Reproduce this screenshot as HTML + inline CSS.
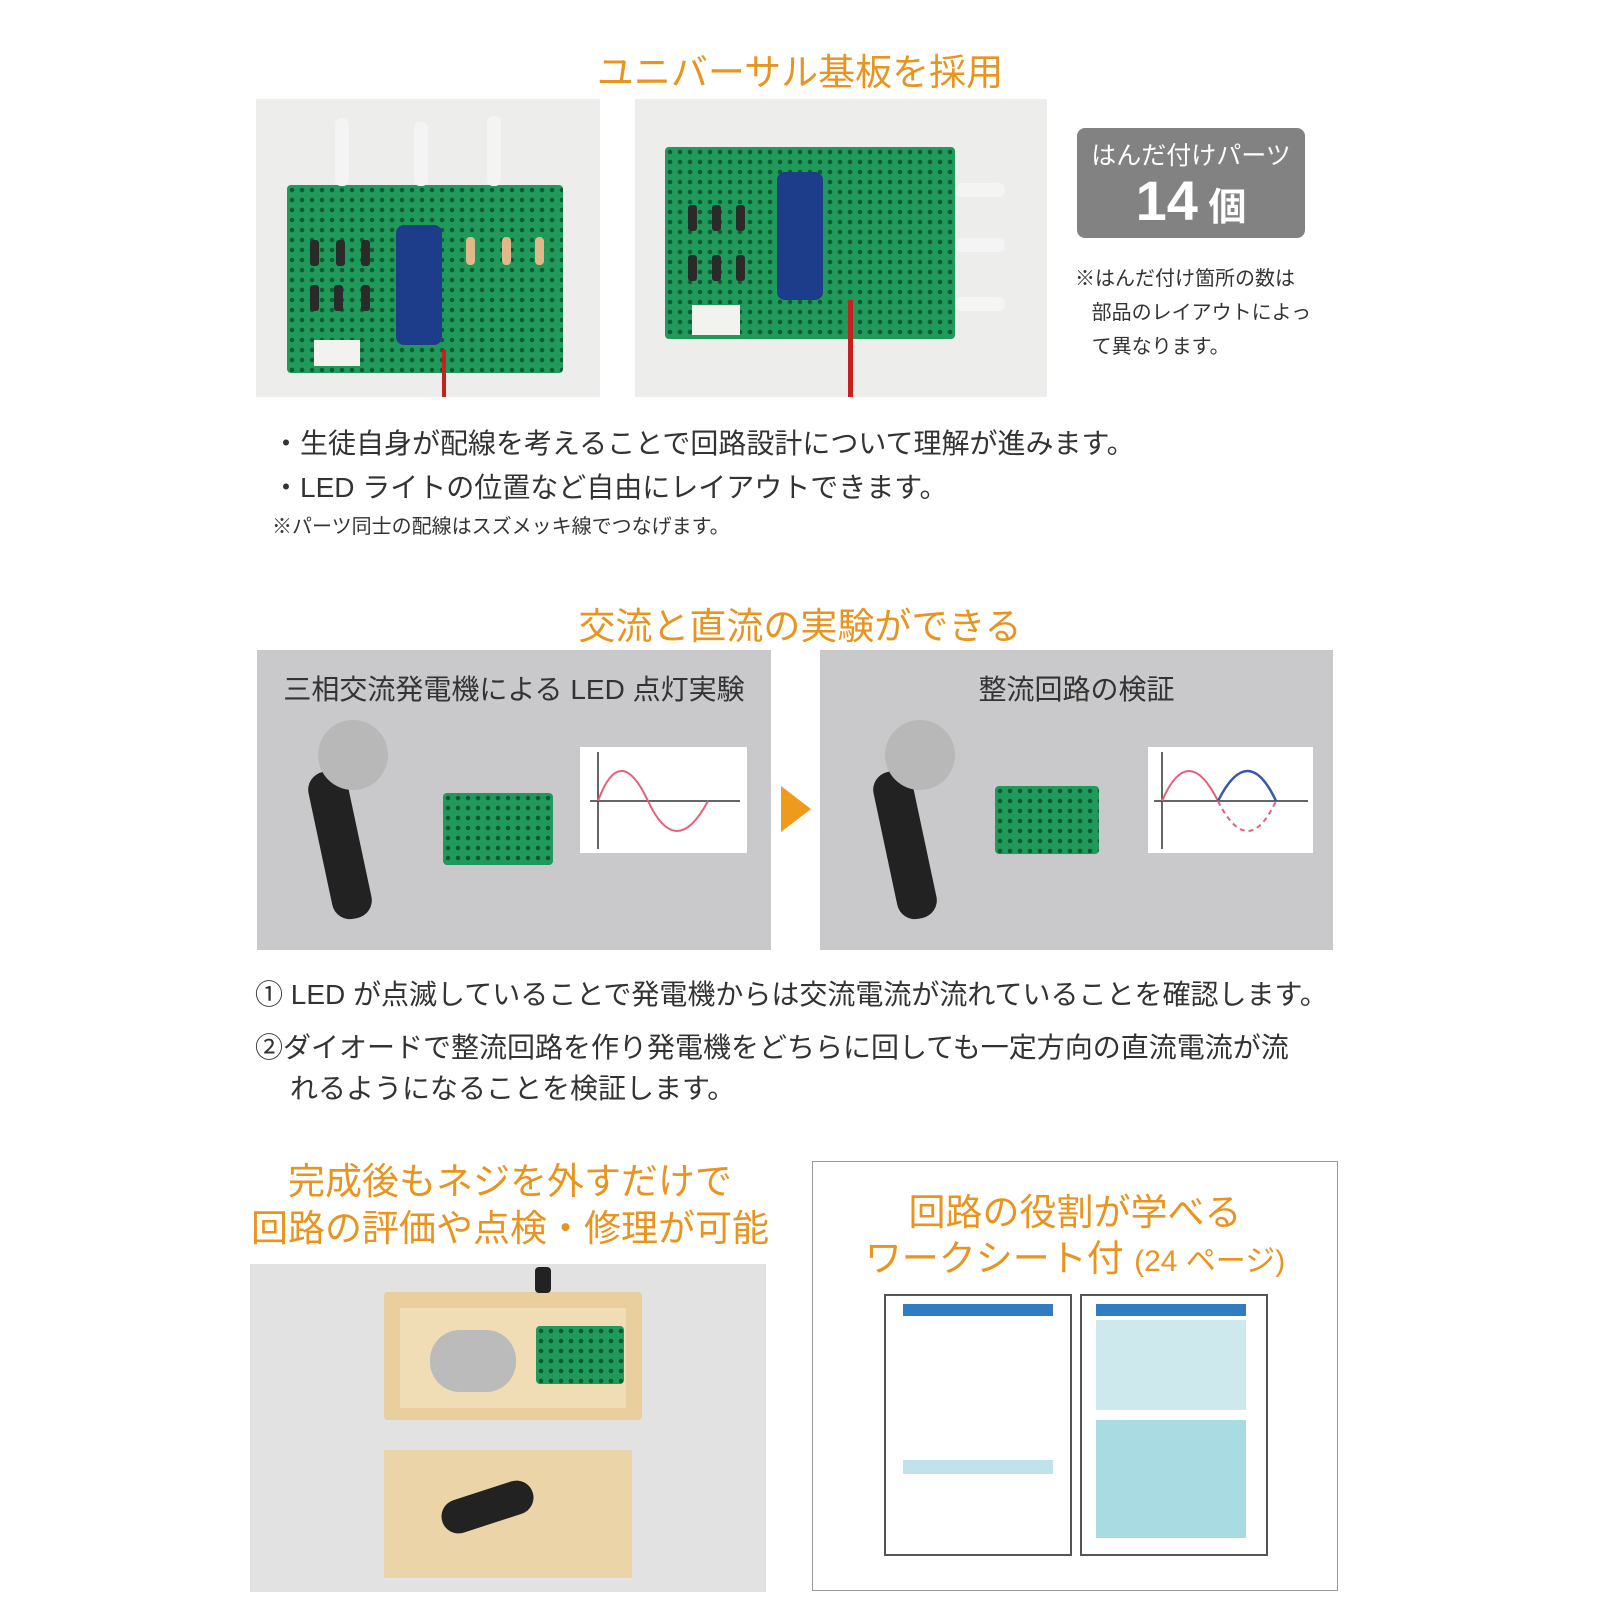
<!DOCTYPE html>
<html><head><meta charset="utf-8">
<style>
body{margin:0;width:1600px;height:1600px;background:#fff;position:relative;overflow:hidden;font-family:"Liberation Sans","Noto Sans CJK JP",sans-serif;color:#333}
.a{position:absolute}
.t{color:#e8941f;font-size:37px;text-align:center;white-space:nowrap}
.pcb{background:#1f9a5a;background-image:radial-gradient(circle,#0d5a32 2px,transparent 2.5px);background-size:10px 10px;border-radius:4px}
.txt{font-size:28px;white-space:nowrap;color:#333}
.d{position:absolute;width:9px;height:26px;background:#2a2a2a;border-radius:3px}
.r{position:absolute;width:9px;height:28px;background:#e0b88a;border-radius:4px}
</style></head><body>
<div class="a t" style="left:0;width:1600px;top:42px">ユニバーサル基板を採用</div>

<div class="a" style="left:256px;top:99px;width:344px;height:298px;background:#ededec"></div>
<div class="a pcb" style="left:287px;top:185px;width:276px;height:188px"></div>
<div class="a" style="left:396px;top:225px;width:46px;height:120px;background:#1d3c8a;border-radius:8px"></div>
<div class="a" style="left:314px;top:340px;width:46px;height:26px;background:#f2f2ee"></div>
<div class="d" style="left:310px;top:240px"></div><div class="d" style="left:336px;top:240px"></div><div class="d" style="left:361px;top:240px"></div>
<div class="d" style="left:310px;top:285px"></div><div class="d" style="left:334px;top:285px"></div><div class="d" style="left:361px;top:285px"></div>
<div class="r" style="left:466px;top:237px"></div><div class="r" style="left:502px;top:237px"></div><div class="r" style="left:535px;top:237px"></div>
<div class="a" style="left:335px;top:118px;width:14px;height:68px;background:#f4f4f4;border-radius:6px"></div>
<div class="a" style="left:414px;top:122px;width:14px;height:64px;background:#f4f4f4;border-radius:6px"></div>
<div class="a" style="left:487px;top:116px;width:14px;height:70px;background:#f4f4f4;border-radius:6px"></div>
<div class="a" style="left:442px;top:350px;width:4px;height:47px;background:#c62020"></div>

<div class="a" style="left:635px;top:99px;width:412px;height:298px;background:#ededec"></div>
<div class="a pcb" style="left:665px;top:147px;width:290px;height:192px"></div>
<div class="a" style="left:777px;top:172px;width:46px;height:128px;background:#1d3c8a;border-radius:8px"></div>
<div class="a" style="left:692px;top:305px;width:48px;height:30px;background:#f2f2ee"></div>
<div class="d" style="left:688px;top:205px"></div><div class="d" style="left:712px;top:205px"></div><div class="d" style="left:736px;top:205px"></div>
<div class="d" style="left:688px;top:255px"></div><div class="d" style="left:712px;top:255px"></div><div class="d" style="left:736px;top:255px"></div>
<div class="a" style="left:955px;top:183px;width:50px;height:14px;background:#f4f4f4;border-radius:6px"></div>
<div class="a" style="left:955px;top:238px;width:50px;height:14px;background:#f4f4f4;border-radius:6px"></div>
<div class="a" style="left:955px;top:297px;width:50px;height:14px;background:#f4f4f4;border-radius:6px"></div>
<div class="a" style="left:848px;top:300px;width:5px;height:97px;background:#c62020"></div>

<div class="a" style="left:1077px;top:128px;width:228px;height:110px;background:#828282;border-radius:8px;color:#fff;text-align:center">
<div style="font-size:25px;margin-top:8px">はんだ付けパーツ</div>
<div style="font-size:56px;font-weight:bold;line-height:58px">14<span style="font-size:38px"> 個</span></div></div>
<div class="a" style="left:1075px;top:262px;font-size:20px;line-height:34px;color:#333">※はんだ付け箇所の数は<br>&nbsp;&nbsp;&nbsp;部品のレイアウトによっ<br>&nbsp;&nbsp;&nbsp;て異なります。</div>

<div class="a txt" style="left:272px;top:422px">・生徒自身が配線を考えることで回路設計について理解が進みます。</div>
<div class="a txt" style="left:272px;top:466px">・LED ライトの位置など自由にレイアウトできます。</div>
<div class="a" style="left:272px;top:510px;font-size:20px">※パーツ同士の配線はスズメッキ線でつなげます。</div>

<div class="a t" style="left:0;width:1600px;top:596px">交流と直流の実験ができる</div>

<div class="a" style="left:257px;top:650px;width:514px;height:300px;background:#c9c9cb"></div>
<div class="a txt" style="left:257px;width:514px;top:668px;text-align:center">三相交流発電機による LED 点灯実験</div>
<div class="a" style="left:320px;top:770px;width:40px;height:150px;background:#222;border-radius:18px;transform:rotate(-12deg)"></div>
<div class="a" style="left:318px;top:720px;width:70px;height:70px;background:#b8b8b8;border-radius:50%"></div>
<div class="a pcb" style="left:443px;top:793px;width:110px;height:72px"></div>
<div class="a" style="left:580px;top:747px;width:167px;height:106px;background:#fff"><svg width="167" height="106"><line x1="18" y1="5" x2="18" y2="102" stroke="#333" stroke-width="1.5"/><line x1="10" y1="54" x2="160" y2="54" stroke="#333" stroke-width="1.5"/><path d="M18 54 Q40 -6 68 54 T128 54" fill="none" stroke="#e2617a" stroke-width="2"/></svg></div>
<div class="a" style="left:781px;top:786px;width:0;height:0;border-left:30px solid #ee9a1d;border-top:23px solid transparent;border-bottom:23px solid transparent"></div>

<div class="a" style="left:820px;top:650px;width:513px;height:300px;background:#c9c9cb"></div>
<div class="a txt" style="left:820px;width:513px;top:668px;text-align:center">整流回路の検証</div>
<div class="a" style="left:885px;top:770px;width:40px;height:150px;background:#222;border-radius:18px;transform:rotate(-12deg)"></div>
<div class="a" style="left:885px;top:720px;width:70px;height:70px;background:#b8b8b8;border-radius:50%"></div>
<div class="a pcb" style="left:995px;top:786px;width:104px;height:68px"></div>
<div class="a" style="left:1148px;top:747px;width:165px;height:106px;background:#fff"><svg width="165" height="106"><line x1="14" y1="5" x2="14" y2="102" stroke="#333" stroke-width="1.5"/><line x1="6" y1="54" x2="160" y2="54" stroke="#333" stroke-width="1.5"/><path d="M14 54 Q40 -6 70 54" fill="none" stroke="#e2617a" stroke-width="2"/><path d="M70 54 Q100 -6 128 54" fill="none" stroke="#3b55a8" stroke-width="2.5"/><path d="M70 54 Q100 114 128 54" fill="none" stroke="#e2617a" stroke-width="2" stroke-dasharray="5 4"/></svg></div>

<div class="a txt" style="left:255px;top:973px">① LED が点滅していることで発電機からは交流電流が流れていることを確認します。</div>
<div class="a txt" style="left:255px;top:1026px">②ダイオードで整流回路を作り発電機をどちらに回しても一定方向の直流電流が流</div>
<div class="a txt" style="left:290px;top:1067px">れるようになることを検証します。</div>

<div class="a t" style="left:250px;width:520px;top:1158px;line-height:47px">完成後もネジを外すだけで<br>回路の評価や点検・修理が可能</div>
<div class="a" style="left:250px;top:1264px;width:516px;height:328px;background:#e2e2e2"></div>
<div class="a" style="left:384px;top:1292px;width:258px;height:128px;background:#e9cf9e;border-radius:4px"></div>
<div class="a" style="left:400px;top:1308px;width:226px;height:100px;background:#f0dcb5"></div>
<div class="a" style="left:535px;top:1267px;width:16px;height:26px;background:#222;border-radius:4px"></div>
<div class="a pcb" style="left:536px;top:1326px;width:88px;height:58px"></div>
<div class="a" style="left:430px;top:1330px;width:86px;height:62px;background:#bbb;border-radius:30px"></div>
<div class="a" style="left:384px;top:1450px;width:248px;height:128px;background:#ebd4a8"></div>
<div class="a" style="left:440px;top:1490px;width:95px;height:34px;background:#222;border-radius:17px;transform:rotate(-18deg)"></div>

<div class="a" style="left:812px;top:1161px;width:524px;height:428px;border:1.5px solid #999"></div>
<div class="a t" style="left:812px;width:526px;top:1190px;line-height:46px">回路の役割が学べる<br>ワークシート付 <span style="font-size:30px">(24 ページ)</span></div>
<div class="a" style="left:884px;top:1294px;width:184px;height:258px;border:2px solid #555;background:#fff"></div>
<div class="a" style="left:903px;top:1304px;width:150px;height:12px;background:#2f7cc1"></div>
<div class="a" style="left:903px;top:1460px;width:150px;height:14px;background:#bfe3ea"></div>
<div class="a" style="left:1080px;top:1294px;width:184px;height:258px;border:2px solid #555;background:#fff"></div>
<div class="a" style="left:1096px;top:1304px;width:150px;height:12px;background:#2f7cc1"></div>
<div class="a" style="left:1096px;top:1320px;width:150px;height:90px;background:#cde9ee"></div>
<div class="a" style="left:1096px;top:1420px;width:150px;height:118px;background:#a9dbe3"></div>
</body></html>
